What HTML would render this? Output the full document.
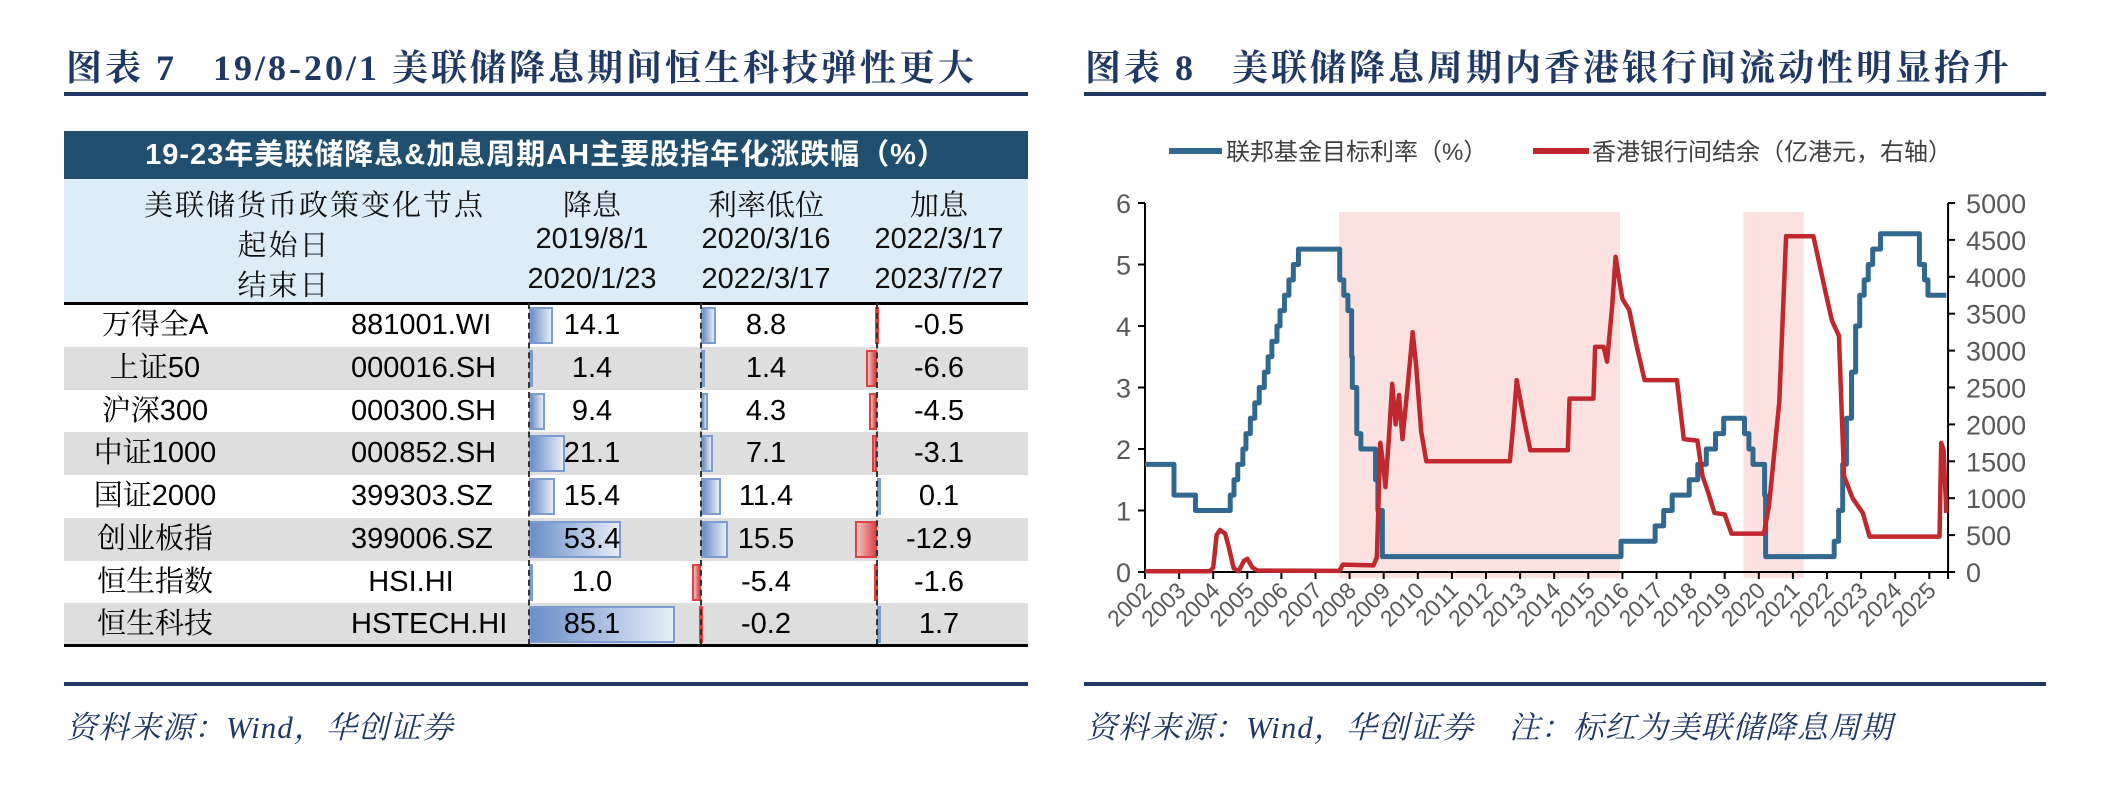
<!DOCTYPE html>
<html><head><meta charset="utf-8">
<style>
body{margin:0;width:2102px;height:792px;background:#fff;position:relative;overflow:hidden;font-family:"Liberation Sans","Noto Sans CJK SC",sans-serif}
.abs{position:absolute}
.title{font-family:"Liberation Serif","Noto Serif CJK SC",serif;font-weight:bold;font-size:36px;color:#1f3864;top:40px;white-space:pre;letter-spacing:3px}
.rule{height:4px;background:#1f3864}
.src{font-family:"Liberation Serif","Noto Serif CJK SC",serif;font-style:italic;font-size:31px;color:#1f3864;top:702px;white-space:pre;letter-spacing:1px}
.c{position:absolute;text-align:center;white-space:nowrap}
.hd{font-family:"Liberation Sans","Noto Serif CJK SC",sans-serif;font-size:29px;color:#111}
.row{position:absolute;left:64px;width:964px;height:43px}
.val{position:absolute;font-size:29px;color:#000;width:120px;text-align:center;line-height:43px}
.bar{position:absolute;box-sizing:border-box}
.pos{background:linear-gradient(90deg,#6b8fc7,#e6edf8);border:2px solid #7c9bd0}
.neg{background:linear-gradient(90deg,#f4c3c3,#e04848);border:2px solid #e04040}
.axisv{position:absolute;width:0;border-left:2px dashed #333;top:303px;height:342px}
</style></head><body>
<div class="abs title" style="left:66px">图表 7   19/8-20/1 美联储降息期间恒生科技弹性更大</div>
<div class="abs rule" style="left:64px;top:92px;width:964px"></div>
<div class="abs title" style="left:1085px">图表 8   美联储降息周期内香港银行间流动性明显抬升</div>
<div class="abs rule" style="left:1084px;top:92px;width:962px"></div>

<div class="abs" style="left:64px;top:131px;width:964px;height:48px;background:#1f4e6e;color:#fff;font-weight:bold;font-size:29px;text-align:center;line-height:48px;letter-spacing:1px">19-23年美联储降息&amp;加息周期AH主要股指年化涨跌幅（%）</div>
<div class="abs" style="left:64px;top:179px;width:964px;height:124px;background:#dcedf8">
 <div class="c hd" style="left:80px;width:285px;top:4px;letter-spacing:2px">美联储货币政策变化节点</div>
 <div class="c hd" style="left:160px;width:120px;top:44px;letter-spacing:2px">起始日</div>
 <div class="c hd" style="left:160px;width:120px;top:84px;letter-spacing:2px">结束日</div>
 <div class="c hd" style="left:458px;width:140px;top:4px">降息</div>
 <div class="c hd" style="left:458px;width:140px;top:44px">2019/8/1</div>
 <div class="c hd" style="left:458px;width:140px;top:84px">2020/1/23</div>
 <div class="c hd" style="left:632px;width:140px;top:4px">利率低位</div>
 <div class="c hd" style="left:632px;width:140px;top:44px">2020/3/16</div>
 <div class="c hd" style="left:632px;width:140px;top:84px">2022/3/17</div>
 <div class="c hd" style="left:805px;width:140px;top:4px">加息</div>
 <div class="c hd" style="left:805px;width:140px;top:44px">2022/3/17</div>
 <div class="c hd" style="left:805px;width:140px;top:84px">2023/7/27</div>
</div>
<div class="abs" style="left:64px;top:302px;width:964px;height:3px;background:#000"></div>
<div id="rows"></div>
<div class="abs" style="left:64px;top:644px;width:964px;height:3px;background:#000"></div>
<div class="abs rule" style="left:64px;top:682px;width:964px"></div>
<div class="abs src" style="left:66px">资料来源：Wind，华创证券</div>
<div class="abs rule" style="left:1084px;top:682px;width:962px"></div>
<div class="abs src" style="left:1086px">资料来源：Wind，华创证券    注：标红为美联储降息周期</div>

<svg id="chart" class="abs" style="left:0;top:0" width="2102" height="792"></svg>

<script>
const names=["万得全A","上证50","沪深300","中证1000","国证2000","创业板指","恒生指数","恒生科技"];
const codes=["881001.WI","000016.SH","000300.SH","000852.SH","399303.SZ","399006.SZ","HSI.HI","HSTECH.HI"];
const cutVals=[14.1,1.4,9.4,21.1,15.4,53.4,1.0,85.1];
const lowVals=[8.8,1.4,4.3,7.1,11.4,15.5,-5.4,-0.2];
const hikeVals=[-0.5,-6.6,-4.5,-3.1,0.1,-12.9,-1.6,1.7];
const colAxis=[529,701,877], colText=[592,766,939], pxPer=1.72;
const rowsEl=document.getElementById('rows');
names.forEach((n,i)=>{
  const top=304+i*42.75;
  const r=document.createElement('div');
  r.className='row';
  
  
  r.style.top=top+'px';
  if(i%2==1) r.style.background='#dedede';
  r.innerHTML='<div class="val" style="left:26px;width:130px;font-family:\'Liberation Sans\',\'Noto Serif CJK SC\',sans-serif;font-size:29px">'+n+'</div><div class="val" style="left:287px;width:120px">'+codes[i]+'</div>';
  rowsEl.appendChild(r);
  [cutVals,lowVals,hikeVals].forEach((arr,c)=>{
    const v=arr[i], w=Math.max(Math.abs(v)*pxPer,2.5);
    const b=document.createElement('div');
    
    
    b.className='bar '+(v>=0?'pos':'neg');
    b.style.top=(top+3)+'px';b.style.height='37px';b.style.width=w+'px';
    b.style.left=(v>=0?colAxis[c]:colAxis[c]-w)+'px';
    rowsEl.appendChild(b);
    const t=document.createElement('div');
    
    
    t.className='val';t.style.top=top+'px';t.style.left=(colText[c]-60)+'px';
    t.textContent=v.toFixed(1);
    rowsEl.appendChild(t);
  });
});
colAxis.forEach(x=>{const a=document.createElement('div');a.className='axisv';a.style.left=(x-1)+'px';


rowsEl.appendChild(a);});

// chart data
const years=[2002,2003,2004,2005,2006,2007,2008,2009,2010,2011,2012,2013,2014,2015,2016,2017,2018,2019,2020,2021,2022,2023,2024,2025];
const leftTicks=[0,1,2,3,4,5,6];
const rightTicks=[0,500,1000,1500,2000,2500,3000,3500,4000,4500,5000];
const fedDates=[2002,2002.85,2003.48,2004.5,2004.61,2004.72,2004.87,2004.96,2005.09,2005.22,2005.35,2005.5,2005.61,2005.72,2005.87,2005.96,2006.09,2006.22,2006.35,2006.5,2007.71,2007.83,2007.95,2008.06,2008.08,2008.21,2008.33,2008.76,2008.83,2008.96,2015.96,2016.96,2017.21,2017.46,2017.96,2018.21,2018.46,2018.73,2018.97,2019.58,2019.71,2019.83,2020.17,2020.2,2022.21,2022.34,2022.46,2022.57,2022.72,2022.84,2022.96,2023.09,2023.21,2023.34,2023.57,2024.71,2024.86,2024.96,2025.5];
const fedRates=[1.75,1.25,1.0,1.25,1.5,1.75,2.0,2.25,2.5,2.75,3.0,3.25,3.5,3.75,4.0,4.25,4.5,4.75,5.0,5.25,4.75,4.5,4.25,3.5,3.0,2.25,2.0,1.5,1.0,0.25,0.5,0.75,1.0,1.25,1.5,1.75,2.0,2.25,2.5,2.25,2.0,1.75,1.25,0.25,0.5,1.0,1.75,2.5,3.25,4.0,4.5,4.75,5.0,5.25,5.5,5.0,4.75,4.5,4.5];
const hkDates=[2002,2003.9,2004.0,2004.1,2004.2,2004.35,2004.45,2004.6,2004.75,2004.9,2005.0,2005.15,2005.3,2007.7,2007.8,2008.7,2008.8,2008.9,2009.0,2009.05,2009.15,2009.25,2009.35,2009.45,2009.55,2009.7,2009.85,2009.95,2010.1,2010.25,2012.7,2012.8,2012.9,2013.1,2013.3,2014.4,2014.45,2015.15,2015.2,2015.45,2015.55,2015.7,2015.8,2016.0,2016.2,2016.4,2016.65,2017.6,2017.8,2018.2,2018.35,2018.5,2018.7,2019.0,2019.2,2020.15,2020.3,2020.45,2020.6,2020.8,2021.6,2022.0,2022.15,2022.35,2022.5,2022.75,2023.05,2023.25,2025.3,2025.35,2025.42,2025.5];
const hkBal=[10,10,60,500,570,520,350,50,10,150,180,60,20,15,100,90,200,1750,1400,1150,1800,2550,2000,2400,1800,2500,3250,2800,1900,1500,1500,2000,2600,2100,1650,1650,2350,2350,3050,3050,2850,3600,4270,3700,3550,3100,2600,2600,1800,1780,1300,1100,800,780,520,520,900,1600,2300,4550,4550,3700,3400,3200,1300,1000,800,480,480,1750,1650,800];
const bandStart=[2007.69,2019.55];
const bandEnd=[2015.93,2021.32];

const X0=1145,PXY=34.1,Y0=572,YTOP=203;
const xs=y=>X0+(y-2002)*PXY;
const yl=v=>Y0-(v/6)*(Y0-YTOP);
const yr=v=>Y0-(v/5000)*(Y0-YTOP);
const svg=document.getElementById('chart');
const NS='http://www.w3.org/2000/svg';
function mk(tag,attrs){const e=document.createElementNS(NS,tag);for(const k in attrs)e.setAttribute(k,attrs[k]);svg.appendChild(e);return e;}
bandStart.forEach((s,i)=>{
  const r=mk('rect',{x:xs(s),y:212,width:xs(bandEnd[i])-xs(s),height:578-212,fill:'#fbe2e0'});
  
  
});
const ax=mk('path',{d:`M${X0} ${YTOP} V${Y0} H${xs(2025.55)} M${xs(2025.55)} ${YTOP} V${Y0}`,stroke:'#000','stroke-width':2,fill:'none'});


leftTicks.forEach(v=>{
  mk('line',{x1:X0-7,x2:X0,y1:yl(v),y2:yl(v),stroke:'#000','stroke-width':2});
  const t=mk('text',{x:X0-14,y:yl(v)+10,'text-anchor':'end','font-size':27,fill:'#595959','font-family':'Liberation Sans'});
  
  
  t.textContent=v;
});
rightTicks.forEach(v=>{
  const xr=xs(2025.55);
  mk('line',{x1:xr,x2:xr+7,y1:yr(v),y2:yr(v),stroke:'#000','stroke-width':2});
  const t=mk('text',{x:xr+18,y:yr(v)+10,'font-size':27,fill:'#595959','font-family':'Liberation Sans'});
  
  
  t.textContent=v;
});
years.forEach(y=>{
  mk('line',{x1:xs(y),x2:xs(y),y1:Y0,y2:Y0+7,stroke:'#000','stroke-width':2});
  const t=mk('text',{x:xs(y)+8,y:Y0+20,'text-anchor':'end','font-size':23,fill:'#595959','font-family':'Liberation Sans',transform:`rotate(-45 ${xs(y)+8} ${Y0+20})`});
  
  
  t.textContent=y;
});
mk('line',{x1:xs(2025.55),x2:xs(2025.55),y1:Y0,y2:Y0+7,stroke:'#000','stroke-width':2});
let d='';
fedDates.forEach((t,i)=>{d+= i==0?`M${xs(t)} ${yl(fedRates[i])}`:` H${xs(t)} V${yl(fedRates[i])}`;});
const fl=mk('path',{d,stroke:'#31688f','stroke-width':5,fill:'none','stroke-linejoin':'round'});


let d2=hkDates.map((t,i)=>(i?'L':'M')+xs(t)+' '+yr(hkBal[i])).join(' ');
const hl=mk('path',{d:d2,stroke:'#c0282d','stroke-width':4.5,fill:'none','stroke-linejoin':'round'});


const l1=mk('line',{x1:1169,x2:1222,y1:151,y2:151,stroke:'#31688f','stroke-width':6});


const t1=mk('text',{x:1226,y:160,'font-size':24,fill:'#404040','font-family':'Liberation Sans, Noto Sans CJK SC, sans-serif'});


t1.textContent='联邦基金目标利率（%）';
const l2=mk('line',{x1:1533,x2:1589,y1:151,y2:151,stroke:'#c0282d','stroke-width':6});


const t2=mk('text',{x:1592,y:160,'font-size':24,fill:'#404040','font-family':'Liberation Sans, Noto Sans CJK SC, sans-serif'});


t2.textContent='香港银行间结余（亿港元，右轴）';
</script>
</body></html>
